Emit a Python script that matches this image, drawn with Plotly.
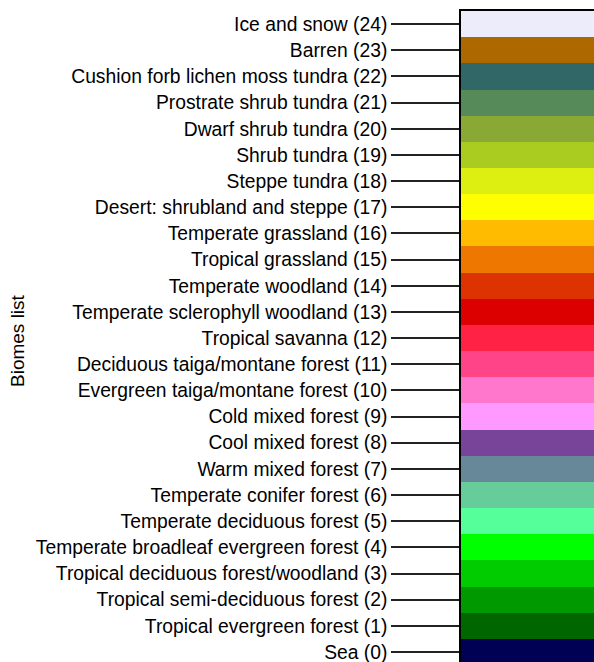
import plotly.graph_objects as go

biome_codes = list(range(25))
biome_names = [
    "Sea", "Tropical evergreen forest", "Tropical semi-deciduous forest",
    "Tropical deciduous forest/woodland", "Temperate broadleaf evergreen forest",
    "Temperate deciduous forest", "Temperate conifer forest", "Warm mixed forest",
    "Cool mixed forest", "Cold mixed forest", "Evergreen taiga/montane forest",
    "Deciduous taiga/montane forest", "Tropical savanna", "Temperate sclerophyll woodland",
    "Temperate woodland", "Tropical grassland", "Temperate grassland",
    "Desert: shrubland and steppe", "Steppe tundra", "Shrub tundra",
    "Dwarf shrub tundra", "Prostrate shrub tundra", "Cushion forb lichen moss tundra",
    "Barren", "Ice and snow",
]
biome_colors = [
    "#000055", "#006600", "#009900", "#00CC00", "#00FF00", "#55FF99", "#66CC99",
    "#668899", "#774499", "#FF99FF", "#FF77CC", "#FF4488", "#FF2244", "#DD0000",
    "#DD3300", "#EE7700", "#FFBB00", "#FFFF00", "#DDEE11", "#AACC20", "#8AA834",
    "#568A58", "#316767", "#AD6800", "#ECECFA",
]
tick_labels = [f"{n} ({c})" for n, c in zip(biome_names, biome_codes)]
bar_extent = [1] * len(biome_codes)

FONT = "Liberation Sans, Arial, Helvetica, sans-serif"

fig = go.Figure(
    go.Bar(
        x=bar_extent,
        y=biome_codes,
        orientation="h",
        width=1,
        marker=dict(color=biome_colors, line=dict(width=0)),
        hoverinfo="skip",
    )
)

fig.update_layout(
    width=594,
    height=662,
    margin=dict(l=461, r=0, t=11, b=0),
    plot_bgcolor="white",
    paper_bgcolor="white",
    showlegend=False,
    font=dict(family=FONT, size=19.3, color="black"),
    bargap=0,
)
fig.update_xaxes(
    range=[0, 1],
    side="top",
    showline=True,
    linecolor="black",
    linewidth=1.5,
    showticklabels=False,
    ticks="",
    showgrid=False,
    zeroline=False,
    fixedrange=True,
)
fig.update_yaxes(
    range=[-0.38, 24.5],
    tickmode="array",
    tickvals=biome_codes,
    ticktext=tick_labels,
    ticks="outside",
    ticklen=68,
    tickwidth=1.5,
    tickcolor="#222222",
    ticklabeloverflow="allow",
    showline=True,
    linecolor="black",
    linewidth=1.5,
    showgrid=False,
    zeroline=False,
    tickfont=dict(family=FONT, size=19.3, color="black"),
    fixedrange=True,
)
fig.add_annotation(
    text="Biomes list",
    textangle=-90,
    xref="paper",
    yref="paper",
    x=(17 - 461) / 133,
    y=(662 - 341) / 651,
    xanchor="center",
    yanchor="middle",
    showarrow=False,
    font=dict(family=FONT, size=19, color="black"),
)

fig.write_html(
    "out.html",
    config={"displayModeBar": False},
    post_script="document.body.style.margin='0';document.body.style.overflow='hidden';",
)
